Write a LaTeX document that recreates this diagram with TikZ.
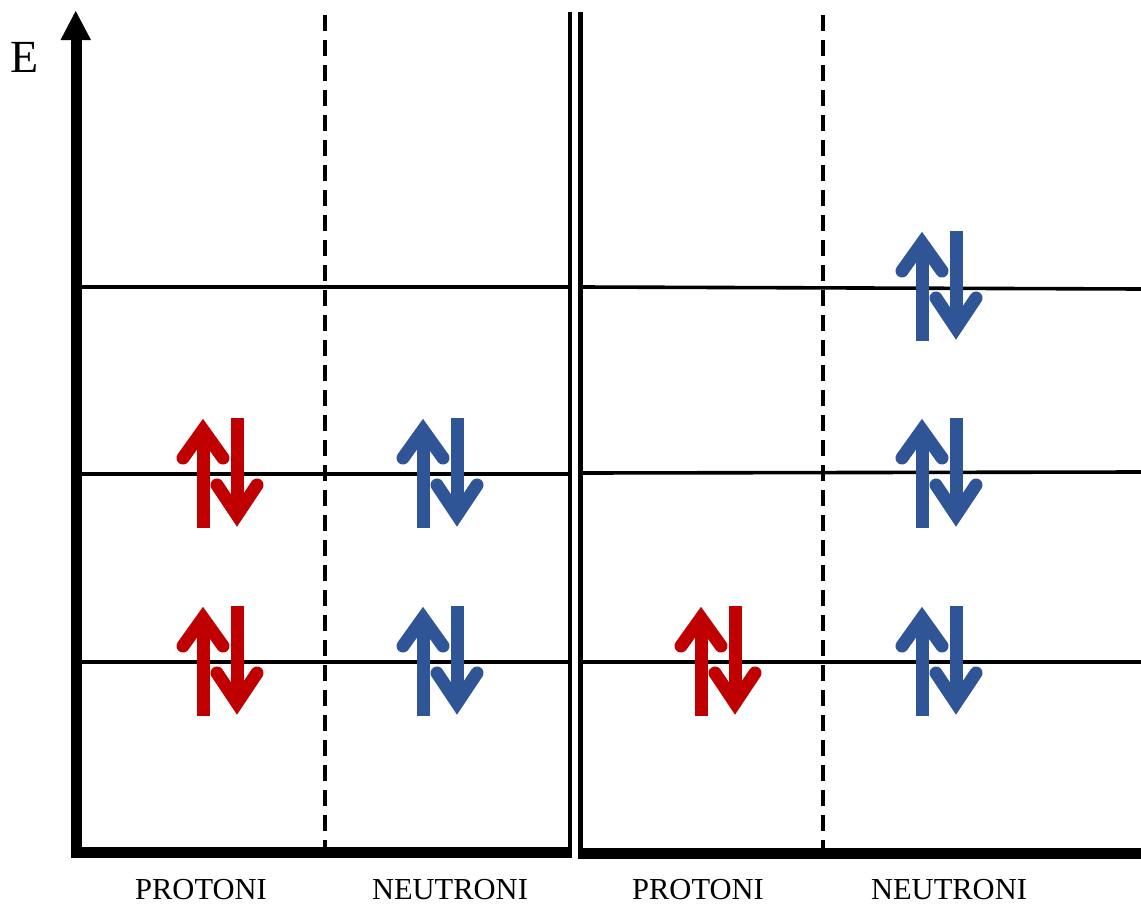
\documentclass[tikz,border=0pt]{standalone}
\usepackage{fontspec}
\setmainfont{Liberation Serif}
\usepackage{tikz}
\usetikzlibrary{arrows.meta}

\definecolor{protred}{RGB}{192,0,0}
\definecolor{neutblue}{RGB}{47,85,151}

\tikzset{
  level/.style={line width=3.6pt},
  divider/.style={line width=4pt,dash pattern=on 16pt off 9pt},
  spinshaft/.style={line width=13pt},
  spinhead/.style={line width=13pt,line cap=round,line join=miter},
  label/.style={font=\fontsize{30.5}{32}\selectfont}
}

\newcommand{\spinpair}[3]{%
\begin{scope}[shift={(#1,#2)},#3]
\draw[spinshaft] (-17,54) -- (-17,-38);
\draw[spinhead] (-37,-16) -- (-17,-44) -- (3,-16);
\draw[spinshaft] (17,-56) -- (17,35);
\draw[spinhead] (-3,11) -- (17,41) -- (37,11);
\end{scope}}

\begin{document}
\begin{tikzpicture}[x=1pt,y=-1pt]
\useasboundingbox (0,0) rectangle (1141,905);
\draw[level] (80,287) -- (568,287) (582,287) -- (1141,289);
\draw[level] (80,474) -- (568,474) (582,473) -- (1141,472);
\draw[level] (80,662) -- (568,662) (582,662) -- (1141,662);
\draw[divider] (325,15) -- (325,860);
\draw[divider] (823,15) -- (823,860);
\draw[line width=11pt,line join=miter] (76,36) -- (76,852) -- (572,852);
\fill (60.5,40) -- (91,40) -- (75.7,11) -- cycle;
\draw[line width=4.5pt] (570,12) -- (570,848);
\draw[line width=4.5pt] (580.5,12) -- (580.5,850);
\draw[line width=11pt] (578,853) -- (1141,853);
\spinpair{220}{474}{protred}
\spinpair{220}{662}{protred}
\spinpair{440}{474}{neutblue}
\spinpair{440}{662}{neutblue}
\spinpair{718}{662}{protred}
\spinpair{939}{287}{neutblue}
\spinpair{939}{474}{neutblue}
\spinpair{939}{662}{neutblue}
\node[font=\fontsize{46}{48}\selectfont] (energy) at (24.5,57.5) {E};
\node[label] (protleft) at (201,890) {PROTONI};
\node[label] (neutleft) at (450,890) {NEUTRONI};
\node[label] (protright) at (698,890) {PROTONI};
\node[label] (neutright) at (949,890) {NEUTRONI};
\end{tikzpicture}
\end{document}
